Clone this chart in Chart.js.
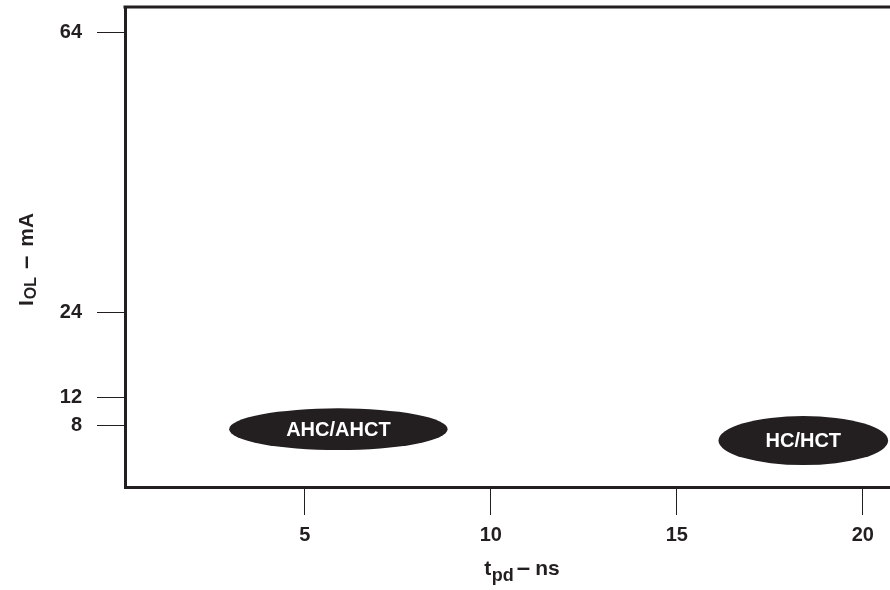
<!DOCTYPE html>
<html>
<head>
<meta charset="utf-8">
<script src="https://cdn.jsdelivr.net/npm/chart.js@4.4.0/dist/chart.umd.min.js"></script>
<style>
  body { margin: 0; background: #fff; }
  canvas { display: block; }
</style>
</head>
<body>
<canvas id="chart" width="890" height="590"></canvas>
<script>
// logic families, each drawn as an ellipse over its tpd / IOL region
const families = ['AHC/AHCT', 'HC/HCT'];
const tpdFrom = [2.97, 16.12];
const tpdTo = [8.84, 20.68];
const iolLow = [4.46, 2.32];
const iolHigh = [10.41, 9.31];

const xTicks = [5, 10, 15, 20];
const yTicks = [8, 12, 24, 64];

const ink = '#231f20';
const fontFamily = "'Liberation Sans', Arial, sans-serif";

const centers = families.map((f, i) => ({
    x: (tpdFrom[i] + tpdTo[i]) / 2,
    y: (iolLow[i] + iolHigh[i]) / 2
}));

const ellipsePlugin = {
    id: 'ellipses',
    afterDatasetsDraw(chart) {
        const ctx = chart.ctx;
        const xs = chart.scales.x;
        const ys = chart.scales.y;
        ctx.save();
        families.forEach((name, i) => {
            const x1 = xs.getPixelForValue(tpdFrom[i]);
            const x2 = xs.getPixelForValue(tpdTo[i]);
            const y1 = ys.getPixelForValue(iolHigh[i]);
            const y2 = ys.getPixelForValue(iolLow[i]);
            const cx = (x1 + x2) / 2, cy = (y1 + y2) / 2;
            ctx.beginPath();
            ctx.ellipse(cx, cy, (x2 - x1) / 2, (y2 - y1) / 2, 0, 0, Math.PI * 2);
            ctx.fillStyle = ink;
            ctx.fill();
            ctx.fillStyle = '#fff';
            ctx.font = 'bold 20px ' + fontFamily;
            ctx.textAlign = 'center';
            ctx.textBaseline = 'middle';
            ctx.fillText(name, cx, cy + 1);
        });
        ctx.restore();
    }
};

// draws a run of text pieces: [text, size, baseline shift, gap after]
function drawRun(ctx, parts, cx, baseline) {
    let w = 0;
    parts.forEach(p => {
        ctx.font = 'bold ' + p[1] + 'px ' + fontFamily;
        w += ctx.measureText(p[0]).width + p[3];
    });
    let x = cx - w / 2;
    parts.forEach(p => {
        ctx.font = 'bold ' + p[1] + 'px ' + fontFamily;
        ctx.fillText(p[0], x, baseline + p[2]);
        x += ctx.measureText(p[0]).width + p[3];
    });
}

// top frame line and axis titles with subscripts
const framePlugin = {
    id: 'frame',
    afterDraw(chart) {
        const ctx = chart.ctx;
        const a = chart.chartArea;
        ctx.save();
        ctx.strokeStyle = ink;
        ctx.lineWidth = 3;
        ctx.beginPath();
        ctx.moveTo(a.left - 1.5, a.top);
        ctx.lineTo(a.right, a.top);
        ctx.stroke();

        ctx.fillStyle = ink;
        ctx.textBaseline = 'alphabetic';
        ctx.textAlign = 'left';

        // x title: t_pd – ns
        drawRun(ctx, [['t', 21, 0, 0.5], ['pd', 18, 6, 3], ['\u2013', 24, 0, 5], ['ns', 21, 0, 0]], 522, 575);

        // y title: I_OL – mA
        ctx.translate(33, 259.5);
        ctx.rotate(-Math.PI / 2);
        drawRun(ctx, [['I', 21, 0, 1], ['OL', 16, 3, 8], ['\u2013', 24, 0, 9], ['mA', 21, 0, 0]], 0, 0);
        ctx.restore();
    }
};

new Chart(document.getElementById('chart'), {
    type: 'scatter',
    data: {
        datasets: [{
            label: 'families',
            data: centers,
            pointRadius: 0
        }]
    },
    options: {
        responsive: false,
        animation: false,
        layout: { padding: { top: 7, right: 0, left: 0, bottom: 0 } },
        plugins: {
            legend: { display: false },
            tooltip: { enabled: false }
        },
        scales: {
            x: {
                type: 'linear',
                min: 0.17,
                max: 20.73,
                afterBuildTicks: s => { s.ticks = xTicks.map(v => ({ value: v })); },
                afterFit: s => { s.height = 103; s.paddingLeft = 0; s.paddingRight = 0; },
                border: { display: true, width: 3, color: ink },
                grid: { display: true, drawOnChartArea: false, drawTicks: true, tickLength: 28, tickWidth: 1, tickColor: ink },
                ticks: { color: ink, padding: 8, font: { family: fontFamily, size: 20, weight: 'bold' } }
            },
            y: {
                type: 'linear',
                min: -0.81,
                max: 67.62,
                afterBuildTicks: s => { s.ticks = yTicks.map(v => ({ value: v })); },
                afterFit: s => { s.width = 125; s.paddingTop = 0; s.paddingBottom = 0; },
                border: { display: true, width: 3, color: ink },
                grid: { display: true, drawOnChartArea: false, drawTicks: true, tickLength: 28, tickWidth: 1, tickColor: ink },
                ticks: { color: ink, padding: 15, font: { family: fontFamily, size: 20, weight: 'bold' } }
            }
        }
    },
    plugins: [ellipsePlugin, framePlugin]
});
</script>
</body>
</html>
